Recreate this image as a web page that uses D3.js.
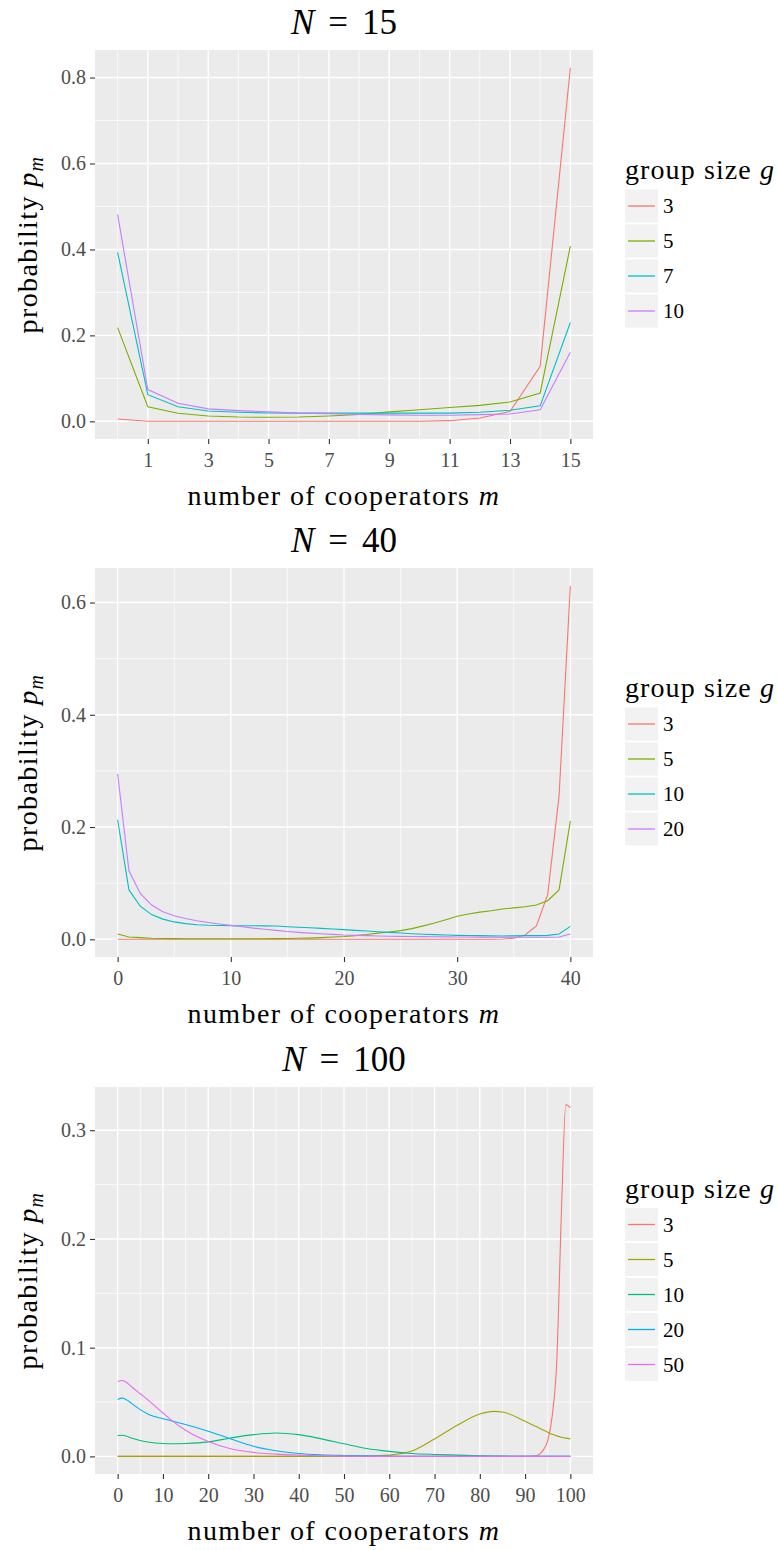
<!DOCTYPE html>
<html>
<head>
<meta charset="utf-8">
<script src="https://cdn.jsdelivr.net/npm/d3@7"></script>
<style>
body { margin: 0; background: #fff; }
text { font-family: "Liberation Serif", "DejaVu Serif", serif; }
</style>
</head>
<body>
<svg width="777" height="1550"></svg>
<script>
'use strict';

///////////////////////////// data /////////////////////////////
// N = 15, m = 0..15
var m15 = [0, 1, 2, 3, 4, 5, 6, 7, 8, 9, 10, 11, 12, 13, 14, 15];
var groups15 = ['3', '5', '7', '10'];
var p15_g3  = [0.0054, 0, 0, 0, 0, 0, 0, 0, 0, 0, 0, 0.0015, 0.0078, 0.023, 0.128, 0.823];
var p15_g5  = [0.218, 0.034, 0.0186, 0.0124, 0.010, 0.0093, 0.010, 0.0124, 0.016, 0.022, 0.027, 0.032, 0.037, 0.045, 0.066, 0.408];
var p15_g7  = [0.393, 0.062, 0.034, 0.024, 0.021, 0.0194, 0.019, 0.019, 0.019, 0.019, 0.019, 0.019, 0.021, 0.0256, 0.036, 0.230];
var p15_g10 = [0.481, 0.074, 0.042, 0.029, 0.025, 0.022, 0.019, 0.018, 0.016, 0.015, 0.014, 0.014, 0.0155, 0.017, 0.027, 0.161];
var xMajor15 = [1, 3, 5, 7, 9, 11, 13, 15];
var xMinor15 = [0, 2, 4, 6, 8, 10, 12, 14];
var yMajor15 = [0, 0.2, 0.4, 0.6, 0.8];
var yMinor15 = [0.1, 0.3, 0.5, 0.7];

// N = 40, m = 0..40
var m40 = [0, 1, 2, 3, 4, 5, 6, 7, 8, 9, 10, 11, 12, 13, 14, 15, 16, 17, 18, 19, 20,
           21, 22, 23, 24, 25, 26, 27, 28, 29, 30, 31, 32, 33, 34, 35, 36, 37, 38, 39, 40];
var groups40 = ['3', '5', '10', '20'];
var p40_g3  = [0, 0, 0, 0, 0, 0, 0, 0, 0, 0, 0, 0, 0, 0, 0, 0, 0, 0, 0, 0, 0,
               0, 0, 0, 0, 0, 0, 0, 0, 0, 0, 0, 0, 0, 0.0005, 0.002, 0.0077, 0.024, 0.08, 0.255, 0.630];
var p40_g5  = [0.0095, 0.004, 0.003, 0.002, 0.0015, 0.0012, 0.001, 0.001, 0.001, 0.001, 0.001, 0.001, 0.001, 0.0011, 0.0012, 0.0015, 0.0018, 0.0022, 0.003, 0.004, 0.005,
               0.0065, 0.0085, 0.011, 0.013, 0.0155, 0.019, 0.024, 0.029, 0.035, 0.041, 0.045, 0.0485, 0.051, 0.054, 0.056, 0.058, 0.061, 0.0687, 0.088, 0.211];
var p40_g10 = [0.213, 0.088, 0.059, 0.044, 0.036, 0.031, 0.028, 0.026, 0.025, 0.0245, 0.0243, 0.0243, 0.0243, 0.024, 0.0237, 0.0225, 0.0215, 0.0205, 0.0195, 0.0183, 0.0172,
               0.016, 0.0148, 0.0136, 0.0124, 0.0112, 0.010, 0.009, 0.0083, 0.0077, 0.0071, 0.0068, 0.0065, 0.0062, 0.006, 0.0062, 0.0065, 0.0066, 0.0071, 0.0095, 0.023];
var p40_g20 = [0.295, 0.122, 0.0817, 0.061, 0.049, 0.042, 0.037, 0.033, 0.030, 0.0273, 0.0249, 0.0225, 0.020, 0.018, 0.016, 0.014, 0.0124, 0.011, 0.010, 0.0088, 0.0077,
               0.0071, 0.0065, 0.006, 0.0056, 0.0053, 0.005, 0.0048, 0.0046, 0.0043, 0.0041, 0.004, 0.0039, 0.0038, 0.0037, 0.0036, 0.0036, 0.0036, 0.0036, 0.0041, 0.0095];
var xMajor40 = [0, 10, 20, 30, 40];
var xMinor40 = [5, 15, 25, 35];
var yMajor40 = [0, 0.2, 0.4, 0.6];
var yMinor40 = [0.1, 0.3, 0.5];

// N = 100, read at these m
var m100 = [0, 1, 2, 3, 5, 7, 10, 12, 15, 20, 25, 30, 35, 40, 45, 50, 55, 60, 65, 70, 75, 80, 83, 85,
            90, 92, 93, 94, 95, 96, 97, 98, 99, 100];
var groups100 = ['3', '5', '10', '20', '50'];
var p100_g3  = [0, 0, 0, 0, 0, 0, 0, 0, 0, 0, 0, 0, 0, 0, 0, 0, 0, 0, 0, 0, 0, 0, 0, 0,
                0, 0.0004, 0.0015, 0.0058, 0.0146, 0.0375, 0.0877, 0.2215, 0.3236, 0.3205];
var p100_g5  = [0, 0, 0, 0, 0, 0, 0, 0, 0, 0, 0, 0, 0, 0, 0, 0.0001, 0.0003, 0.0012, 0.0049, 0.016, 0.0286, 0.039, 0.0414, 0.0408,
                0.0323, 0.0283, 0.0263, 0.0242, 0.0222, 0.0203, 0.0189, 0.0177, 0.0168, 0.0161];
var p100_g10 = [0.0192, 0.0195, 0.0186, 0.017, 0.0146, 0.013, 0.0119, 0.0116, 0.0119, 0.0134, 0.017, 0.020, 0.0216, 0.020, 0.0161, 0.0116, 0.0073, 0.0046, 0.0027, 0.0018, 0.0012, 0.0006, 0.0004, 0.0003,
                0, 0, 0, 0, 0, 0, 0, 0, 0, 0];
var p100_g20 = [0.0524, 0.0536, 0.052, 0.049, 0.043, 0.0384, 0.0347, 0.0326, 0.0293, 0.0232, 0.0161, 0.0094, 0.0052, 0.0027, 0.0015, 0.0009, 0.0005, 0.0003, 0.0001, 0, 0, 0, 0, 0,
                0, 0, 0, 0, 0, 0, 0, 0, 0, 0];
var p100_g50 = [0.0689, 0.0698, 0.068, 0.0643, 0.0576, 0.0509, 0.0399, 0.0329, 0.024, 0.0137, 0.007, 0.0037, 0.0021, 0.0012, 0.0006, 0.0003, 0.0001, 0, 0, 0, 0, 0, 0, 0,
                0, 0, 0, 0, 0, 0, 0, 0, 0, 0];
var xMajor100 = [0, 10, 20, 30, 40, 50, 60, 70, 80, 90, 100];
var xMinor100 = [5, 15, 25, 35, 45, 55, 65, 75, 85, 95];
var yMajor100 = [0, 0.1, 0.2, 0.3];
var yMinor100 = [0.05, 0.15, 0.25];

var colors4 = ['#F8766D', '#7CAE00', '#00BFC4', '#C77CFF'];
var colors5 = ['#F8766D', '#A3A500', '#00BF7D', '#00B0F6', '#E76BF3'];

///////////////////////////// layout /////////////////////////////
var svg = d3.select('svg');
var panelLeft = 95, panelRight = 593;
var legendX = 625, keyStep = 35;

function drawPanel(opt) {
    var g = svg.append('g');
    var xr = d3.extent(opt.m), xpad = (xr[1] - xr[0]) * 0.05;
    var ymax = d3.max(opt.series, function(s) { return d3.max(s); });
    var x = d3.scaleLinear().domain([xr[0] - xpad, xr[1] + xpad]).range([panelLeft, panelRight]);
    var y = d3.scaleLinear().domain([-0.05 * ymax, 1.05 * ymax]).range([opt.bottom, opt.top]);

    // background
    g.append('rect')
        .attr('x', panelLeft).attr('y', opt.top)
        .attr('width', panelRight - panelLeft).attr('height', opt.bottom - opt.top)
        .attr('fill', '#EBEBEB');

    // grid
    function vlines(vals, w) {
        g.selectAll(null).data(vals).enter().append('line')
            .attr('x1', function(d) { return x(d); }).attr('x2', function(d) { return x(d); })
            .attr('y1', opt.top).attr('y2', opt.bottom)
            .attr('stroke', '#fff').attr('stroke-width', w);
    }
    function hlines(vals, w) {
        g.selectAll(null).data(vals).enter().append('line')
            .attr('y1', function(d) { return y(d); }).attr('y2', function(d) { return y(d); })
            .attr('x1', panelLeft).attr('x2', panelRight)
            .attr('stroke', '#fff').attr('stroke-width', w);
    }
    vlines(opt.xMinor, 0.7);
    hlines(opt.yMinor, 0.7);
    vlines(opt.xMajor, 1.4);
    hlines(opt.yMajor, 1.4);

    // lines
    var line = d3.line()
        .x(function(d, i) { return x(opt.m[i]); })
        .y(function(d) { return y(d); })
        .curve(opt.curve || d3.curveLinear);
    g.selectAll('.series').data(opt.series).enter().append('path')
        .attr('class', 'series')
        .attr('d', function(d) { return line(d); })
        .attr('fill', 'none')
        .attr('stroke', function(d, i) { return opt.colors[i]; })
        .attr('stroke-width', 1.1);

    // axes
    var xAxis = g.append('g')
        .attr('transform', 'translate(0,' + opt.bottom + ')')
        .call(d3.axisBottom(x).tickValues(opt.xMajor).tickSize(5).tickPadding(9).tickFormat(d3.format('d')));
    var yAxis = g.append('g')
        .attr('transform', 'translate(' + panelLeft + ',0)')
        .call(d3.axisLeft(y).tickValues(opt.yMajor).tickSize(5).tickPadding(4).tickFormat(d3.format('.1f')));
    [xAxis, yAxis].forEach(function(a) {
        a.select('.domain').remove();
        a.selectAll('.tick line').attr('stroke', '#333').attr('stroke-width', 1.1);
        a.selectAll('.tick text').attr('fill', '#4D4D4D').style('font-size', '20px')
            .style('font-family', '"Liberation Serif", serif');
    });

    var midX = (panelLeft + panelRight) / 2, midY = (opt.top + opt.bottom) / 2;

    // title: N = value, math spacing around '='
    var t = g.append('text').attr('x', midX).attr('y', opt.top - 16)
        .attr('text-anchor', 'middle').style('font-size', '35px').attr('fill', '#000');
    t.append('tspan').style('font-style', 'italic').text('N');
    t.append('tspan').attr('dx', 14).text('=');
    t.append('tspan').attr('dx', 14).text(opt.N);

    // axis titles
    var xt = g.append('text').attr('x', midX).attr('y', opt.bottom + 66)
        .attr('text-anchor', 'middle').style('font-size', '28px').style('letter-spacing', '1.4px');
    xt.append('tspan').text('number of cooperators ');
    xt.append('tspan').style('font-style', 'italic').text('m');

    var yt = g.append('text')
        .attr('transform', 'translate(37,' + midY + ') rotate(-90)')
        .attr('text-anchor', 'middle').style('font-size', '28px').style('letter-spacing', '1.4px');
    yt.append('tspan').text('probability ');
    yt.append('tspan').style('font-style', 'italic').text('p');
    yt.append('tspan').style('font-style', 'italic').style('font-size', '20px').attr('dy', 6).text('m');

    // legend
    var n = opt.groups.length;
    var firstKey = midY - keyStep * (n - 1) / 2 + 14;
    var lt = g.append('text').attr('x', legendX).attr('y', firstKey - 27)
        .style('font-size', '28px').style('letter-spacing', '1.1px');
    lt.append('tspan').text('group size ');
    lt.append('tspan').style('font-style', 'italic').text('g');

    var keys = g.selectAll('.key').data(opt.groups).enter().append('g')
        .attr('class', 'key')
        .attr('transform', function(d, i) { return 'translate(' + legendX + ',' + (firstKey + i * keyStep) + ')'; });
    keys.append('rect')
        .attr('x', 0).attr('y', -16.5).attr('width', 33).attr('height', 33)
        .attr('fill', '#F2F2F2');
    keys.append('line')
        .attr('x1', 3).attr('x2', 30).attr('y1', 0).attr('y2', 0)
        .attr('stroke', function(d, i) { return opt.colors[i]; })
        .attr('stroke-width', 1.3);
    keys.append('text')
        .attr('x', 38).attr('y', 0).attr('dy', '0.35em')
        .style('font-size', '21px')
        .text(function(d) { return d; });
}

drawPanel({
    N: 15, top: 50, bottom: 439, m: m15,
    series: [p15_g3, p15_g5, p15_g7, p15_g10], groups: groups15, colors: colors4,
    xMajor: xMajor15, xMinor: xMinor15, yMajor: yMajor15, yMinor: yMinor15
});
drawPanel({
    N: 40, top: 568, bottom: 957, m: m40,
    series: [p40_g3, p40_g5, p40_g10, p40_g20], groups: groups40, colors: colors4,
    xMajor: xMajor40, xMinor: xMinor40, yMajor: yMajor40, yMinor: yMinor40
});
drawPanel({
    N: 100, top: 1087, bottom: 1474, m: m100,
    series: [p100_g3, p100_g5, p100_g10, p100_g20, p100_g50], groups: groups100, colors: colors5,
    xMajor: xMajor100, xMinor: xMinor100, yMajor: yMajor100, yMinor: yMinor100,
    curve: d3.curveMonotoneX
});
</script>
</body>
</html>
